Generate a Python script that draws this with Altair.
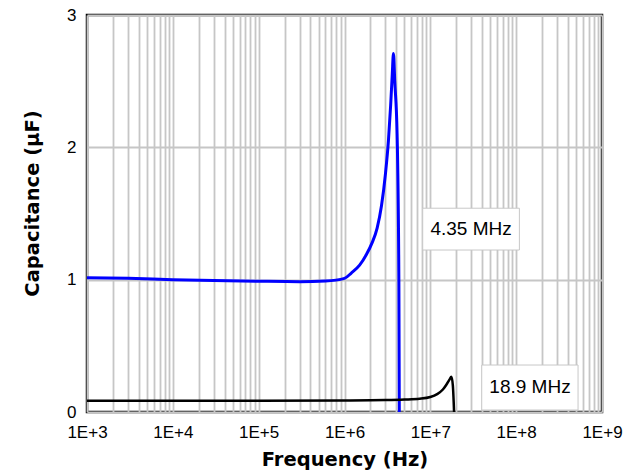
import altair as alt
import pandas as pd

# Capacitance vs frequency, two parts (log frequency axis)
blue_freq = [1e3, 3e3, 1e4, 3e4, 1e5, 3e5, 6e5, 1e6, 1.2e6, 1.5e6, 1.8e6, 2.1e6,
             2.4e6, 2.7e6, 3.0e6, 3.25e6, 3.45e6, 3.6e6, 3.72e6, 3.85e6, 4.1e6,
             4.3e6, 4.35e6]
blue_cap = [1.015, 1.01, 1.0, 0.993, 0.988, 0.985, 0.99, 1.01, 1.05, 1.11, 1.19,
            1.28, 1.39, 1.56, 1.80, 2.05, 2.32, 2.55, 2.71, 2.50, 2.10, 1.0, 0.0]

black_freq = [1e3, 1e4, 1e5, 1e6, 3e6, 5e6, 7.5e6, 1e7, 1.2e7, 1.4e7, 1.55e7,
              1.67e7, 1.76e7, 1.83e7, 1.87e7, 1.89e7]
black_cap = [0.085, 0.085, 0.085, 0.087, 0.09, 0.094, 0.1, 0.113, 0.135, 0.17,
             0.21, 0.245, 0.267, 0.2, 0.08, 0.0]

# Axis ticks
decades = [10 ** k for k in range(3, 10)]
decade_labels = ["1E+3", "1E+4", "1E+5", "1E+6", "1E+7", "1E+8", "1E+9"]
minor_steps = [2, 3, 4, 5, 6, 7, 8, 9]
cap_ticks = [0, 1, 2, 3]

# Resonance annotations
note_text = ["4.35 MHz", "18.9 MHz"]
note_f = [2.98e7, 1.45e8]
note_c = [1.383, 0.189]
box_f1 = [8.15e6, 3.97e7]
box_f2 = [1.09e8, 5.26e8]
box_c1 = [1.224, 0.015]
box_c2 = [1.54, 0.355]

grid_values = sorted(decades + [m * d for d in decades[:-1] for m in minor_steps])

dec_js = "[" + ",".join(str(d) for d in decades) + "]"
lab_js = "[" + ",".join("'" + s + "'" for s in decade_labels) + "]"
label_expr = (f"indexof({dec_js}, datum.value) >= 0 ? "
              f"{lab_js}[indexof({dec_js}, datum.value)] : ''")

blue_df = pd.DataFrame({"freq": blue_freq, "cap": blue_cap})
black_df = pd.DataFrame({"freq": black_freq, "cap": black_cap})
notes_df = pd.DataFrame({"text": note_text, "f": note_f, "c": note_c,
                         "f1": box_f1, "f2": box_f2, "c1": box_c1, "c2": box_c2})

x_scale = alt.Scale(type="log", domain=[1e3, 1e9], nice=False)
y_scale = alt.Scale(domain=[0, 3], nice=False, zero=False)

x_axis = alt.Axis(
    title="Frequency (Hz)", values=grid_values, labelExpr=label_expr,
    grid=True, ticks=False, domain=False, labelPadding=12,
    labelFlush=False, labelOverlap=False,
    titleY=47, titleBaseline="middle",
)
y_axis = alt.Axis(
    title="Capacitance (µF)", values=cap_ticks, format="d",
    grid=True, ticks=False, domain=False, labelPadding=11,
    labelFlush=False, labelOverlap=False,
    titleX=-55, titleY=188, titleBaseline="middle", titleAngle=270,
)

X = alt.X("freq:Q", scale=x_scale, axis=x_axis)
Y = alt.Y("cap:Q", scale=y_scale, axis=y_axis)

blue = alt.Chart(blue_df).mark_line(
    color="#0000ff", strokeWidth=3, interpolate="monotone"
).encode(x=X, y=Y)

black = alt.Chart(black_df).mark_line(
    color="#000000", strokeWidth=2.5, interpolate="monotone"
).encode(x=X, y=Y)

boxes = alt.Chart(notes_df).mark_rect(
    fill="white", stroke="#c8c8c8", strokeWidth=1
).encode(
    x=alt.X("f1:Q", scale=x_scale, axis=x_axis),
    x2="f2:Q",
    y=alt.Y("c1:Q", scale=y_scale, axis=y_axis),
    y2="c2:Q",
)

labels = alt.Chart(notes_df).mark_text(
    font="Liberation Sans", fontSize=19, color="black", align="center",
    baseline="middle"
).encode(
    x=alt.X("f:Q", scale=x_scale, axis=x_axis),
    y=alt.Y("c:Q", scale=y_scale, axis=y_axis),
    text="text:N",
)

chart = alt.layer(blue, black, boxes, labels).properties(
    width=515, height=397,
    padding={"left": 87, "top": 15, "right": 42, "bottom": 60},
    autosize="none",
).configure_view(
    stroke="black", strokeWidth=2.5
).configure_axis(
    gridColor="#c6c6c6", gridWidth=1.8, gridOpacity=1,
    labelFont="Liberation Sans", labelFontSize=17, labelColor="black",
    titleFont="DejaVu Sans", titleFontSize=19.5, titleFontWeight="bold",
    titleColor="black",
)

chart.save("out.html", embed_options={"renderer": "svg", "actions": False})
